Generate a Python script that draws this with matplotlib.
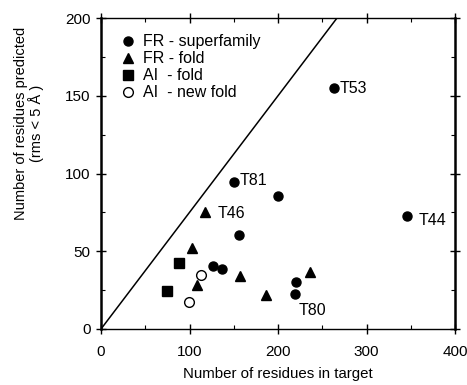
import matplotlib
matplotlib.use("Agg")
import matplotlib.pyplot as plt
from matplotlib.lines import Line2D
from matplotlib.ticker import MultipleLocator

plt.rcParams["font.family"] = ["Liberation Sans", "DejaVu Sans"]

# FR - superfamily (filled circles)
sf_x = [263.7, 150.3, 200.4, 346.0, 155.6, 126.9, 137.1, 220.3, 218.8]
sf_y = [155.3, 94.8, 85.6, 72.7, 60.5, 40.7, 38.4, 30.2, 22.5]
# FR - fold (triangles)
fold_x = [117.5, 103.2, 108.8, 156.7, 186.8, 235.8]
fold_y = [75.3, 52.3, 28.1, 34.1, 21.7, 36.9]
# AI - fold (squares)
ai_x = [87.8, 74.2]
ai_y = [42.3, 24.7]
# AI - new fold (open circles)
new_x = [113.4, 99.1]
new_y = [34.5, 17.6]

# labelled targets: name, x, y
labels = ["T53", "T81", "T46", "T44", "T80"]
lab_x = [263.7, 150.3, 117.5, 346.0, 218.8]
lab_y = [155.3, 94.8, 75.3, 72.7, 22.5]
lab_off = [(4, -1), (4, 1), (9, -1), (8, -3), (3, -12)]

slope = 0.75  # y = 0.75 x reference line

fig = plt.figure(figsize=(4.67, 3.85), dpi=100)
ax = fig.add_axes([0.2163, 0.1455, 0.758, 0.8077])

ax.plot([0, 400], [0, 400 * slope], color="black", lw=1.1)

ms = 7
ax.plot(sf_x, sf_y, "o", color="black", ms=ms - 0.5, ls="none")
ax.plot(fold_x, fold_y, "^", color="black", ms=ms + 0.5, ls="none")
ax.plot(ai_x, ai_y, "s", color="black", ms=ms + 0.5, ls="none")
ax.plot(new_x, new_y, "o", mfc="white", mec="black", mew=1.0, ms=ms,
        ls="none")

for name, x, y, off in zip(labels, lab_x, lab_y, lab_off):
    ax.annotate(name, (x, y), xytext=(off[0], off[1]),
                textcoords="offset points", fontsize=11.5,
                ha="left", va="center")

ax.set_xlim(0, 400)
ax.set_ylim(0, 200)
ax.xaxis.set_major_locator(MultipleLocator(100))
ax.xaxis.set_minor_locator(MultipleLocator(50))
ax.yaxis.set_major_locator(MultipleLocator(50))
ax.yaxis.set_minor_locator(MultipleLocator(25))
ax.tick_params(which="major", direction="inout", length=7, width=1,
               top=True, right=True, labelsize=11)
ax.tick_params(axis="x", which="major", pad=8)
ax.tick_params(axis="y", which="major", pad=4)
ax.tick_params(which="minor", direction="in", length=3, width=0.8,
               top=True, right=True)
for s in ("left", "right"):
    ax.spines[s].set_linewidth(1.8)
for s in ("top", "bottom"):
    ax.spines[s].set_linewidth(1.0)

ax.set_xlabel("Number of residues in target", fontsize=10.8, labelpad=6)
ax.set_ylabel("Number of residues predicted\n(rms < 5 Å )", fontsize=10.5,
              linespacing=1.05)
ax.yaxis.set_label_coords(-0.16, 0.66)

handles = [
    Line2D([], [], marker="o", color="black", ls="none", ms=ms - 0.5),
    Line2D([], [], marker="^", color="black", ls="none", ms=ms + 0.5),
    Line2D([], [], marker="s", color="black", ls="none", ms=ms + 0.5),
    Line2D([], [], marker="o", mfc="white", mec="black", ls="none", ms=ms),
]
ax.legend(handles, ["FR - superfamily", "FR - fold", "AI  - fold",
                    "AI  - new fold"],
          loc="upper left", frameon=False, fontsize=11.5,
          handletextpad=0.35, labelspacing=0.12, borderaxespad=0.0,
          handlelength=1.2, bbox_to_anchor=(0.03, 0.968))

fig.savefig("out.png", dpi=100)
